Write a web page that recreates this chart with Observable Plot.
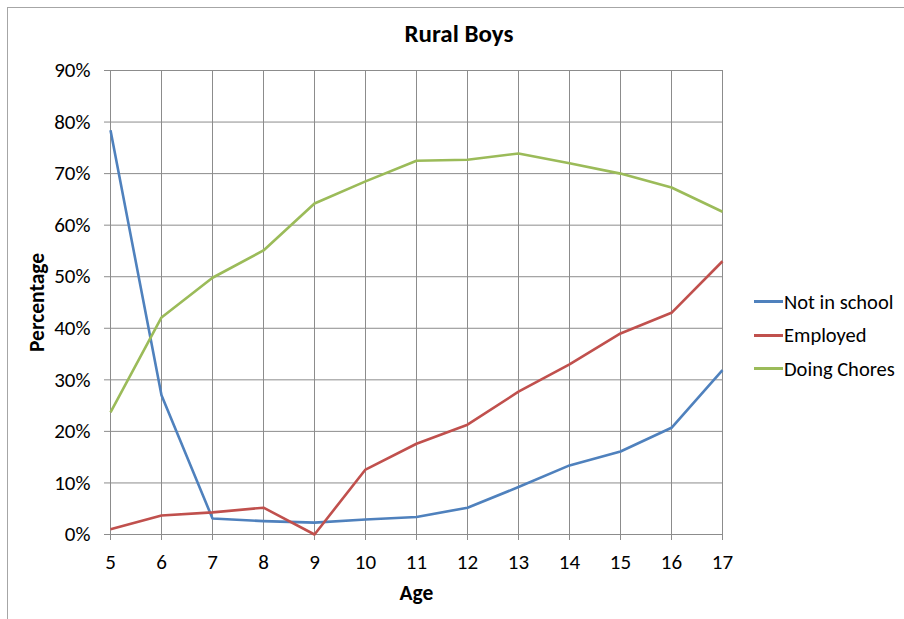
<!DOCTYPE html>
<html>
<head>
<meta charset="utf-8">
<script src="https://cdn.jsdelivr.net/npm/d3@7"></script>
<script src="https://cdn.jsdelivr.net/npm/@observablehq/plot@0.6"></script>
<style>
  html, body { margin: 0; padding: 0; background: #fff; }
  #wrap { position: relative; width: 904px; height: 619px; overflow: hidden; font-family: Carlito, Lato, "Open Sans", sans-serif; }
  #frame { position: absolute; left: 7px; top: 7px; width: 1200px; height: 1200px; border-left: 1px solid #a6a6a6; border-top: 1px solid #a6a6a6; }
  #title { position: absolute; left: 0; width: 918px; top: 18px; text-align: center; font-weight: bold; font-size: 25px; color: #000; }
  #legend { position: absolute; left: 754px; top: 285px; font-size: 20.5px; color: #000; }
  .li { display: flex; align-items: center; height: 33.5px; }
  .sw { width: 29px; height: 3px; margin-right: 1px; }
  svg { position: absolute; left: 0; top: 0; }
</style>
</head>
<body>
<div id="wrap">
  <div id="frame"></div>
  <div id="title">Rural Boys</div>
  <div id="legend"></div>
</div>
<script>
const ages = [5, 6, 7, 8, 9, 10, 11, 12, 13, 14, 15, 16, 17];
const notInSchool = [78.4, 27.0, 3.1, 2.6, 2.3, 2.9, 3.4, 5.2, 9.2, 13.4, 16.1, 20.7, 31.9];
const employed = [1.0, 3.7, 4.3, 5.2, 0.0, 12.6, 17.6, 21.3, 27.7, 33.0, 39.0, 43.0, 53.0];
const doingChores = [23.7, 42.1, 49.8, 55.1, 64.2, 68.5, 72.5, 72.7, 73.9, 72.0, 70.0, 67.3, 62.6];
const seriesNames = ["Not in school", "Employed", "Doing Chores"];
const seriesColors = ["#4F81BD", "#C0504D", "#9BBB59"];
const yTicks = [0, 10, 20, 30, 40, 50, 60, 70, 80, 90];

const seriesValues = [notInSchool, employed, doingChores];
const data = [];
seriesValues.forEach((vals, i) => {
  vals.forEach((v, j) => data.push({ series: seriesNames[i], age: ages[j], value: v }));
});

const gridColor = "#8c8c8c";

const chart = Plot.plot({
  width: 904,
  height: 619,
  marginLeft: 110,
  marginRight: 182,
  marginTop: 70,
  marginBottom: 85,
  style: { fontFamily: "Carlito, Lato, 'Open Sans', sans-serif", fontSize: "21px", color: "#000", background: "transparent", overflow: "visible" },
  x: { domain: [5, 17] },
  y: { domain: [0, 90] },
  color: { domain: seriesNames, range: seriesColors },
  marks: [
    Plot.gridY(yTicks, { stroke: gridColor, strokeOpacity: 1, strokeWidth: 1 }),
    Plot.gridX(ages, { stroke: gridColor, strokeOpacity: 1, strokeWidth: 1 }),
    Plot.axisY(yTicks, { tickSize: 6, tickPadding: 14, stroke: gridColor, fill: "#000", tickFormat: d => d + "%", label: null, fontSize: 21 }),
    Plot.axisX(ages, { tickSize: 6, tickPadding: 14, stroke: gridColor, fill: "#000", tickFormat: d => String(d), label: null, fontSize: 21 }),
    Plot.ruleX([5], { stroke: gridColor }),
    Plot.ruleY([0], { stroke: gridColor }),
    Plot.line(data, { x: "age", y: "value", z: "series", stroke: "series", strokeWidth: 2.6, strokeLinejoin: "round", strokeLinecap: "butt" }),
    Plot.text(["Percentage"], { frameAnchor: "left", textAnchor: "middle", dx: -73, rotate: -90, fontWeight: "bold", fontSize: 21.5, fill: "#000" }),
    Plot.text(["Age"], { frameAnchor: "bottom", textAnchor: "middle", dy: 65, fontWeight: "bold", fontSize: 21.5, fill: "#000" })
  ]
});

document.getElementById("wrap").appendChild(chart);

const legend = document.getElementById("legend");
seriesNames.forEach((name, i) => {
  const row = document.createElement("div");
  row.className = "li";
  const sw = document.createElement("div");
  sw.className = "sw";
  sw.style.background = seriesColors[i];
  const t = document.createElement("span");
  t.textContent = name;
  row.appendChild(sw);
  row.appendChild(t);
  legend.appendChild(row);
});
</script>
</body>
</html>
